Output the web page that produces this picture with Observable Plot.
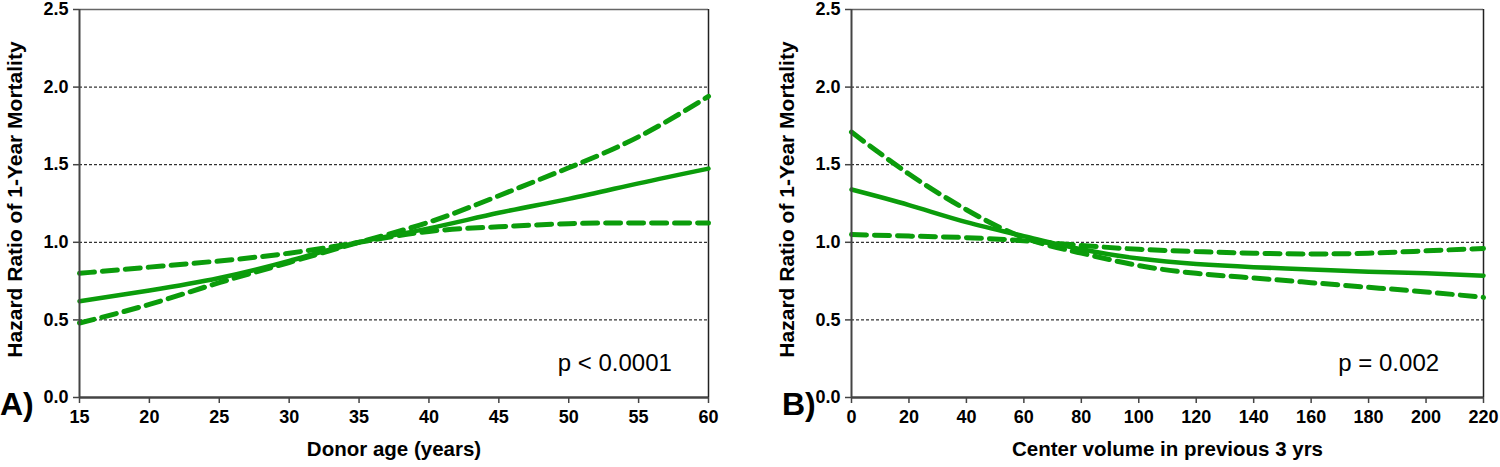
<!DOCTYPE html>
<html><head><meta charset="utf-8">
<script src="https://cdn.jsdelivr.net/npm/d3@7"></script>
<script src="https://cdn.jsdelivr.net/npm/@observablehq/plot@0.6"></script>
<style>
body{margin:0;background:#fff;font-family:Arial,"Liberation Sans",sans-serif}
#wrap{position:relative;width:1500px;height:467px;overflow:hidden}
.panel{position:absolute;top:0;overflow:visible}
.lab{position:absolute;font-weight:bold;font-size:32px;color:#000;line-height:1}
</style></head><body><div id="wrap"></div>
<script>
// Panel A: donor age
const ageX = [15, 20, 25, 30, 35, 40, 45, 50, 55, 60];
const ageHR = [0.62, 0.69, 0.77, 0.88, 1.0, 1.09, 1.19, 1.28, 1.38, 1.475];
const ageUpper = [0.48, 0.60, 0.74, 0.87, 1.0, 1.13, 1.30, 1.48, 1.68, 1.94];
const ageLower = [0.80, 0.84, 0.88, 0.93, 1.0, 1.07, 1.10, 1.12, 1.125, 1.125];
const ageTicks = [15, 20, 25, 30, 35, 40, 45, 50, 55, 60];

// Panel B: center volume
const volX = [0, 20, 40, 60, 80, 100, 120, 140, 160, 180, 200, 220];
const volHR = [1.34, 1.24, 1.13, 1.04, 0.955, 0.895, 0.86, 0.84, 0.825, 0.81, 0.80, 0.785];
const volUpper = [1.71, 1.44, 1.21, 1.03, 0.93, 0.85, 0.80, 0.77, 0.74, 0.71, 0.68, 0.645];
const volLower = [1.05, 1.04, 1.03, 1.01, 0.98, 0.955, 0.94, 0.93, 0.925, 0.93, 0.945, 0.96];
const volTicks = [0, 20, 40, 60, 80, 100, 120, 140, 160, 180, 200, 220];

const yTicks = [0, 0.5, 1.0, 1.5, 2.0, 2.5];
const gridVals = [0.5, 1.0, 1.5, 2.0];
const yTitle = "Hazard Ratio of 1-Year Mortality";

const panels = [
  {left: 0, width: 740, ml: 79, mr: 32, xs: ageX, hr: ageHR, up: ageUpper, lo: ageLower,
   ticks: ageTicks, dom: [15, 60], xTitle: "Donor age (years)", p: "p < 0.0001", px: 53.3, tag: "A)", tagX: 0},
  {left: 740, width: 760, ml: 111, mr: 17, xs: volX, hr: volHR, up: volUpper, lo: volLower,
   ticks: volTicks, dom: [0, 220], xTitle: "Center volume in previous 3 yrs", p: "p = 0.002", px: 187, tag: "B)", tagX: 782}
];

const green = "#0b9c0b";
const wrap = document.getElementById("wrap");

for (const P of panels) {
  const mk = arr => P.xs.map((x, i) => ({x, y: arr[i]}));
  const chart = Plot.plot({
    width: P.width, height: 467,
    marginLeft: P.ml, marginRight: P.mr, marginTop: 9, marginBottom: 70,
    style: {fontFamily: "Arial, 'Liberation Sans', sans-serif", fontSize: "18px", fontWeight: "bold", color: "#000", background: "transparent"},
    x: {domain: P.dom, ticks: P.ticks},
    y: {domain: [0, 2.5], ticks: yTicks},
    marks: [
      Plot.ruleY(gridVals, {stroke: "#000", strokeWidth: 1, strokeDasharray: "3,2"}),
      Plot.ruleY([2.5], {stroke: "#666", strokeWidth: 1.5}),
      Plot.ruleX([P.dom[1]], {stroke: "#222", strokeWidth: 1.5}),
      Plot.line(mk(P.up), {x: "x", y: "y", stroke: green, strokeWidth: 5, strokeDasharray: "15,8", curve: "natural"}),
      Plot.line(mk(P.lo), {x: "x", y: "y", stroke: green, strokeWidth: 5, strokeDasharray: "15,8", curve: "natural"}),
      Plot.line(mk(P.hr), {x: "x", y: "y", stroke: green, strokeWidth: 4.5, curve: "natural"}),
      Plot.ruleX([P.dom[0]], {stroke: "#444", strokeWidth: 2}),
      Plot.ruleY([0], {stroke: "#444", strokeWidth: 2.5}),
      Plot.axisX({ticks: P.ticks, tickSize: 6, tickPadding: 7, stroke: "#444", strokeWidth: 1.5, label: null, fontSize: 18, tickFormat: d => String(d)}),
      Plot.axisY({ticks: yTicks, tickSize: 6, tickPadding: 5, stroke: "#444", strokeWidth: 1.5, label: null, fontSize: 18, tickFormat: d => d.toFixed(1)}),
      Plot.text([yTitle], {frameAnchor: "left", dx: -64, dy: -4, rotate: -90, textAnchor: "middle", fontSize: 21, fontWeight: "bold"}),
      Plot.text([P.xTitle], {frameAnchor: "bottom", dy: 58, textAnchor: "middle", fontSize: 20.5, fontWeight: "bold"}),
      Plot.text([P.p], {x: () => P.px, y: () => 0.22, text: d => d, fontSize: 24, fontWeight: "normal", textAnchor: "middle"})
    ]
  });
  chart.classList.add("panel");
  chart.style.left = P.left + "px";
  wrap.appendChild(chart);
  const t = document.createElement("div");
  t.className = "lab";
  t.textContent = P.tag;
  t.style.left = P.tagX + "px";
  t.style.top = "388px";
  wrap.appendChild(t);
}
</script></body></html>
